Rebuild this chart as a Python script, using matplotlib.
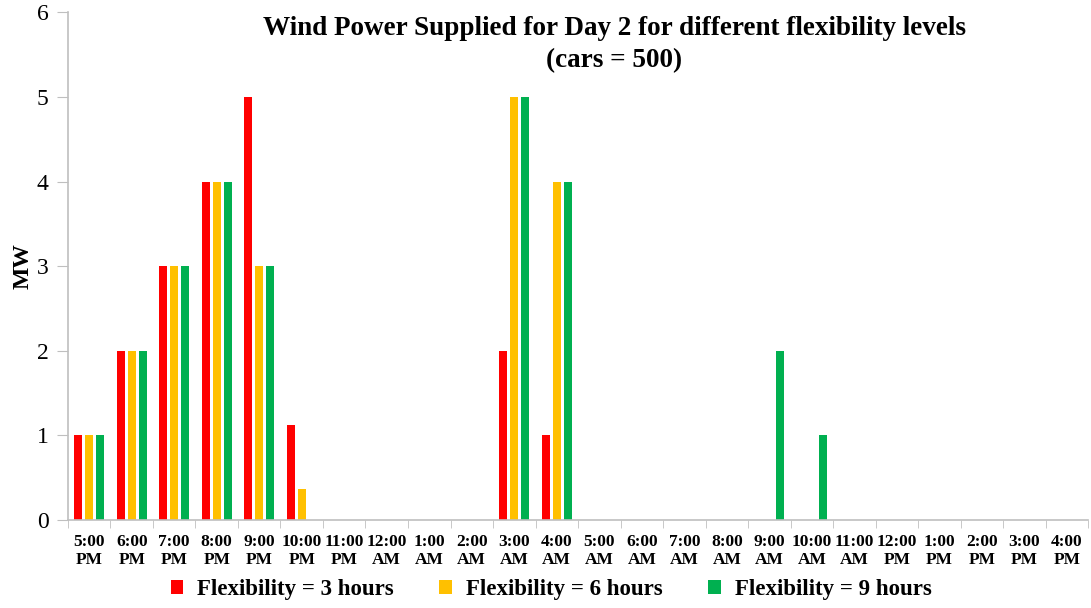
import matplotlib
matplotlib.use("Agg")
import matplotlib.pyplot as plt
import numpy as np

plt.rcParams["font.family"] = ["Liberation Serif", "DejaVu Serif"]

hours = ["5:00\nPM", "6:00\nPM", "7:00\nPM", "8:00\nPM", "9:00\nPM", "10:00\nPM",
         "11:00\nPM", "12:00\nAM", "1:00\nAM", "2:00\nAM", "3:00\nAM", "4:00\nAM",
         "5:00\nAM", "6:00\nAM", "7:00\nAM", "8:00\nAM", "9:00\nAM", "10:00\nAM",
         "11:00\nAM", "12:00\nPM", "1:00\nPM", "2:00\nPM", "3:00\nPM", "4:00\nPM"]
flex3 = [1, 2, 3, 4, 5, 1.12, 0, 0, 0, 0, 2, 1, 0, 0, 0, 0, 0, 0, 0, 0, 0, 0, 0, 0]
flex6 = [1, 2, 3, 4, 3, 0.37, 0, 0, 0, 0, 5, 4, 0, 0, 0, 0, 0, 0, 0, 0, 0, 0, 0, 0]
flex9 = [1, 2, 3, 4, 3, 0, 0, 0, 0, 0, 5, 4, 0, 0, 0, 0, 2, 1, 0, 0, 0, 0, 0, 0]
series = [("Flexibility = 3 hours", flex3, "#ff0000"),
          ("Flexibility = 6 hours", flex6, "#ffc000"),
          ("Flexibility = 9 hours", flex9, "#00b050")]

fig = plt.figure(figsize=(10.91, 6.08), dpi=100)
ax = fig.add_axes([0.0623, 0.1447, 0.935, 0.835])

# three thin bars per hour, offset around the category centre
x = np.arange(len(hours))
w = 0.19
for i, (name, vals, col) in enumerate(series):
    ax.bar(x + (i - 1) * 0.26, vals, width=w, color=col, label=name, zorder=2)

ax.set_xlim(-0.5, len(hours) - 0.5)
ax.set_ylim(0, 6)
ax.set_yticks(range(7))
ax.tick_params(axis="y", labelsize=17, length=8, color="#bfbfbf", pad=6)
ax.set_xticks(x)
ax.set_xticklabels(hours, fontsize=12.5, fontweight="bold", linespacing=1.2)
# tick marks sit between categories, labels at the centres
ax.set_xticks(np.arange(len(hours) + 1) - 0.5, minor=True)
ax.tick_params(axis="x", which="major", length=0, pad=10)
ax.tick_params(axis="x", which="minor", length=6, color="#bfbfbf")
for s in ("top", "right"):
    ax.spines[s].set_visible(False)
for s in ("left", "bottom"):
    ax.spines[s].set_color("#bfbfbf")
    ax.spines[s].set_linewidth(1.2)

ax.set_ylabel("MW", fontsize=17, fontweight="bold", labelpad=2)

fig.text(0.563, 0.927, "Wind Power Supplied for Day 2 for different flexibility levels\n(cars = 500)",
         ha="center", va="center", fontsize=19.5, fontweight="bold", linespacing=1.37)

fig.legend(loc="center", bbox_to_anchor=(0.505, 0.03), ncol=3, frameon=False,
           prop={"size": 16.5, "weight": "bold"}, handlelength=0.55, handleheight=0.55,
           handletextpad=0.6, columnspacing=2.0)

fig.savefig("out.png", dpi=100)
